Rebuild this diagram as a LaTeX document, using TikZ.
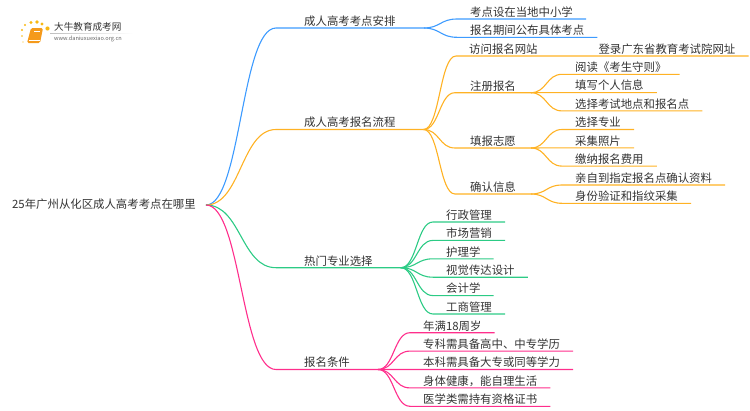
\documentclass[tikz,border=0pt]{standalone}
\usepackage{fontspec}
\usepackage{xcolor}
\usepackage{tikz}
\usetikzlibrary{positioning, calc}
\setmainfont{Noto Sans CJK SC}
\definecolor{txtgray}{HTML}{333333}
\definecolor{mapblue}{HTML}{3D9BFF}
\definecolor{maporange}{HTML}{FFB224}
\definecolor{mapgreen}{HTML}{2CCB85}
\definecolor{mappink}{HTML}{FF2E8C}
\definecolor{bookorange}{HTML}{F59A1B}

\begin{document}
\begin{tikzpicture}[x=1pt, y=-1pt, font=\fontsize{11.4pt}{13pt}\selectfont, text=txtgray]
\tikzstyle{item}=[inner ysep=0.5pt, text height=9pt, text depth=2pt, anchor=south west]
\tikzstyle{root}=[item, inner xsep=10pt, anchor=east]
\tikzstyle{topic}=[item, inner xsep=28pt]
\tikzstyle{mid}=[item, inner xsep=15pt]
\tikzstyle{leaf}=[item, inner xsep=13pt]
\tikzstyle{branch}=[to path={.. controls ($(\tikztostart)!.5!(\tikztotarget |- \tikztostart)$) and ($(\tikztotarget)!.5!(\tikztostart |- \tikztotarget)$) .. (\tikztotarget)}]
\tikzstyle{blueline}=[mapblue, line width=1.1pt]
\tikzstyle{orangeline}=[maporange, line width=1.1pt]
\tikzstyle{greenline}=[mapgreen, line width=1.1pt]
\tikzstyle{pinkline}=[mappink, line width=1.1pt]
\useasboundingbox (0,0) rectangle (750,410);

% logo
\foreach \p/\r in {{31,22.5}/1.7, {37,22}/1.8, {42,24}/1.7, {47.5,28.5}/2.1, {25,25}/1.2, {22,30}/1.1, {22,36}/0.9, {23,42}/0.7}
  \fill[bookorange!70!yellow] (\p) circle (\r);
\fill[bookorange, rounded corners=1.5pt] (31,28) -- (43,28) -- (40,43) -- (27,43) -- cycle;
\draw[white, line width=0.5pt] (29,40.5) -- (39.5,40.5);
\draw[white, line width=0.5pt] (34,31) -- (40,31);
\shade[left color=black!25, right color=white] (50,33) rectangle (133,33.6);
\node[inner sep=0pt, anchor=west] (logotitle) at (54,27) {\fontsize{9.6pt}{11pt}\selectfont 大牛教育成考网};
\node[inner sep=0pt, anchor=west, text=black!60] (logourl) at (54,38.5) {\fontsize{5.6pt}{7pt}\selectfont www.daniuxuexiao.org.cn};

% root and topics
\node[root] (r) at (206,205) {25年广州从化区成人高考考点在哪里};
\node[topic] (t1) at (276,28) {成人高考考点安排};
\node[topic] (t2) at (276,129.5) {成人高考报名流程};
\node[topic] (t3) at (276,267.7) {热门专业选择};
\node[topic] (t4) at (276,369.5) {报名条件};

% first topic
\node[leaf] (a1) at (457,19) {考点设在当地中小学};
\node[leaf, below=18.3pt of a1.south west, anchor=south west] (a2) {报名期间公布具体考点};

% second topic
\node[leaf] (b1) at (456,56) {访问报名网站};
\node[leaf, right=34.5pt of b1] (b11) {登录广东省教育考试院网址};
\node[mid] (b2) at (455,92.7) {注册报名};
\node[mid] (b3) at (455,148) {填报志愿};
\node[mid] (b4) at (455,194) {确认信息};
\node[leaf] (b21) at (562,74.3) {阅读《考生守则》};
\node[leaf, below=18.3pt of b21.south west, anchor=south west] (b22) {填写个人信息};
\node[leaf, below=18.3pt of b22.south west, anchor=south west] (b23) {选择考试地点和报名点};
\node[leaf] (b31) at (562,129.5) {选择专业};
\node[leaf, below=18.3pt of b31.south west, anchor=south west] (b32) {采集照片};
\node[leaf, below=18.3pt of b32.south west, anchor=south west] (b33) {缴纳报名费用};
\node[leaf] (b41) at (562,185) {亲自到指定报名点确认资料};
\node[leaf, below=18.3pt of b41.south west, anchor=south west] (b42) {身份验证和指纹采集};

% third topic
\node[leaf] (c1) at (433,222) {行政管理};
\node[leaf, below=18.4pt of c1.south west, anchor=south west] (c2) {市场营销};
\node[leaf, below=18.4pt of c2.south west, anchor=south west] (c3) {护理学};
\node[leaf, below=18.4pt of c3.south west, anchor=south west] (c4) {视觉传达设计};
\node[leaf, below=18.4pt of c4.south west, anchor=south west] (c5) {会计学};
\node[leaf, below=18.4pt of c5.south west, anchor=south west] (c6) {工商管理};

% fourth topic
\node[leaf] (d1) at (410,332.7) {年满18周岁};
\node[leaf, below=18.4pt of d1.south west, anchor=south west] (d2) {专科需具备高中、中专学历};
\node[leaf, below=18.4pt of d2.south west, anchor=south west] (d3) {本科需具备大专或同等学力};
\node[leaf, below=18.4pt of d3.south west, anchor=south west] (d4) {身体健康，能自理生活};
\node[leaf, below=18.4pt of d4.south west, anchor=south west] (d5) {医学类需持有资格证书};

\draw[blueline] (r.east) to[branch] (t1.south west) -- (t1.south east);
\draw[orangeline] (r.east) to[branch] (t2.south west) -- (t2.south east);
\draw[greenline] (r.east) to[branch] (t3.south west) -- (t3.south east);
\draw[pinkline] (r.east) to[branch] (t4.south west) -- (t4.south east);

\draw[blueline] (t1.south east) to[branch] (a1.south west) -- (a1.south east);
\draw[blueline] (t1.south east) to[branch] (a2.south west) -- (a2.south east);

\draw[orangeline] (t2.south east) to[branch] (b1.south west) -- (b1.south east) -- (b11.south west) -- (b11.south east);
\draw[orangeline] (t2.south east) to[branch] (b2.south west) -- (b2.south east);
\draw[orangeline] (t2.south east) to[branch] (b3.south west) -- (b3.south east);
\draw[orangeline] (t2.south east) to[branch] (b4.south west) -- (b4.south east);
\draw[orangeline] (b2.south east) to[branch] (b21.south west) -- (b21.south east);
\draw[orangeline] (b2.south east) to[branch] (b22.south west) -- (b22.south east);
\draw[orangeline] (b2.south east) to[branch] (b23.south west) -- (b23.south east);
\draw[orangeline] (b3.south east) to[branch] (b31.south west) -- (b31.south east);
\draw[orangeline] (b3.south east) to[branch] (b32.south west) -- (b32.south east);
\draw[orangeline] (b3.south east) to[branch] (b33.south west) -- (b33.south east);
\draw[orangeline] (b4.south east) to[branch] (b41.south west) -- (b41.south east);
\draw[orangeline] (b4.south east) to[branch] (b42.south west) -- (b42.south east);

\draw[greenline] (t3.south east) to[branch] (c1.south west) -- (c1.south east);
\draw[greenline] (t3.south east) to[branch] (c2.south west) -- (c2.south east);
\draw[greenline] (t3.south east) to[branch] (c3.south west) -- (c3.south east);
\draw[greenline] (t3.south east) to[branch] (c4.south west) -- (c4.south east);
\draw[greenline] (t3.south east) to[branch] (c5.south west) -- (c5.south east);
\draw[greenline] (t3.south east) to[branch] (c6.south west) -- (c6.south east);

\draw[pinkline] (t4.south east) to[branch] (d1.south west) -- (d1.south east);
\draw[pinkline] (t4.south east) to[branch] (d2.south west) -- (d2.south east);
\draw[pinkline] (t4.south east) to[branch] (d3.south west) -- (d3.south east);
\draw[pinkline] (t4.south east) to[branch] (d4.south west) -- (d4.south east);
\draw[pinkline] (t4.south east) to[branch] (d5.south west) -- (d5.south east);
\end{tikzpicture}
\end{document}
